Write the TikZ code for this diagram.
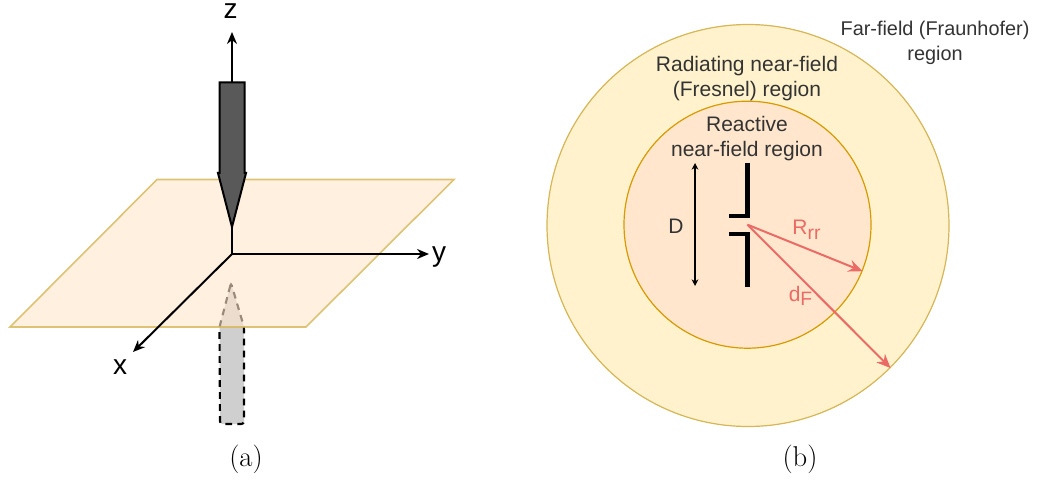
\documentclass[tikz,border=0pt]{standalone}
\usepackage{xcolor}
\usepackage{fontspec}
\setsansfont{Liberation Sans}
\usetikzlibrary{arrows.meta,positioning}
\definecolor{rgInk}{HTML}{333333}
\definecolor{rgPlane}{HTML}{FFE6CC}
\definecolor{rgPlaneLine}{HTML}{D6B656}
\definecolor{rgFar}{HTML}{FFF2CC}
\definecolor{rgNearLine}{HTML}{D79B00}
\definecolor{rgRed}{HTML}{EA6B66}
\definecolor{rgProbe}{HTML}{595959}
\definecolor{rgGhost}{HTML}{CFCFCF}
\newcommand{\rgsub}[1]{\raisebox{-3.5pt}{\fontsize{14.5}{14.5}\selectfont #1}}
\tikzset{
  rg diagram/.style={x=0.75pt,y=-0.75pt,line join=miter},
  rg axis/.style={-{Stealth[length=9pt,width=7.5pt]}, draw=black, line width=1.5pt},
  rg axis label/.style={font=\sffamily\fontsize{21}{21}\selectfont, text=black, inner sep=0pt},
  rg region/.style={font=\sffamily\fontsize{15.75}{18.8}\selectfont, text=rgInk, align=center, inner sep=0pt},
  rg radius/.style={-{Stealth[length=10.5pt,width=9pt]}, draw=rgRed, line width=1.5pt},
  rg radius label/.style={font=\sffamily\fontsize{15.75}{18.8}\selectfont, text=rgRed, inner sep=0pt},
  rg caption/.style={font=\rmfamily\fontsize{21.5}{21.5}\selectfont, inner sep=0pt},
  rg disc/.style={circle, inner sep=0pt, line width=0.9pt}
}
\begin{document}
\begin{tikzpicture}[rg diagram]
\useasboundingbox (0,0) rectangle (1049,481);
% probe below the plane
\draw[fill=rgGhost, line width=1.6pt, dash pattern=on 5pt off 4pt, rounded corners=2pt]
  (231,283) -- (219.5,327) -- (220,424) -- (244,424) -- (244,327) -- cycle;
\fill[rgPlane, fill opacity=0.6] (157,179.5) -- (454,179.5) -- (306,327) -- (10,327) -- cycle;
\draw[rgPlaneLine, opacity=0.8, line width=1.2pt] (157,179.5) -- (454,179.5) -- (306,327) -- (10,327) -- cycle;
% axes
\coordinate (origin) at (232,254);
\coordinate (ztip) at (232,32);
\coordinate (ytip) at (429,254);
\coordinate (xtip) at (133,352);
\draw[rg axis] (origin) -- (ztip);
\draw[rg axis] (origin) -- (ytip);
\draw[rg axis] (origin) -- (xtip);
\node[rg axis label] (zlabel) at (230.5,11.5) {z};
\node[rg axis label] (ylabel) at (439,257) {y};
\node[rg axis label] (xlabel) at (120,367.5) {x};
\draw[fill=rgProbe, line width=1.5pt]
  (219.5,82.5) -- (244.5,82.5) -- (244.5,173) -- (246,173) -- (232,227)
  -- (218,173) -- (219.5,173) -- cycle;
\node[rg caption] (capa) at (246,459) {(a)};
% regions
\node[rg disc, draw=rgPlaneLine, fill=rgFar, minimum size=301.5pt] (outer) at (748,225.5) {};
\node[rg disc, draw=rgNearLine, fill=rgPlane, minimum size=185.25pt] (inner) at (747.5,224.7) {};
\node[rg region, font=\sffamily\fontsize{14.9}{18.8}\selectfont] (farlabel) at (935,43) {Far-field (Fraunhofer)\\region};
\node[rg region] (radlabel) at (747,78.5) {Radiating near-field\\(Fresnel) region};
\node[rg region] (reactlabel) at (747,139) {Reactive\\near-field region};
% dipole
\draw[line width=3.4pt] (747.5,163) -- (747.5,216) -- (729,216);
\draw[line width=3.4pt] (747.5,287) -- (747.5,234) -- (729,234);
\coordinate (dtop) at (695,163);
\coordinate (dbot) at (695,286);
\draw[{Stealth[length=5pt,width=5pt]}-{Stealth[length=5pt,width=5pt]}, line width=0.9pt] (dtop) -- (dbot);
\node[rg region] (dlabel) at (676,226) {D};
\draw[rg radius] (inner.center) -- (inner.-22.6);
\draw[rg radius] (inner.center) -- (outer.-45);
\node[rg radius label] (rrlabel) at (806.5,230) {R\rgsub{rr}};
\node[rg radius label] (dflabel) at (800.5,296) {d\rgsub{F}};
\node[rg caption] (capb) at (800,459) {(b)};
\end{tikzpicture}
\end{document}
